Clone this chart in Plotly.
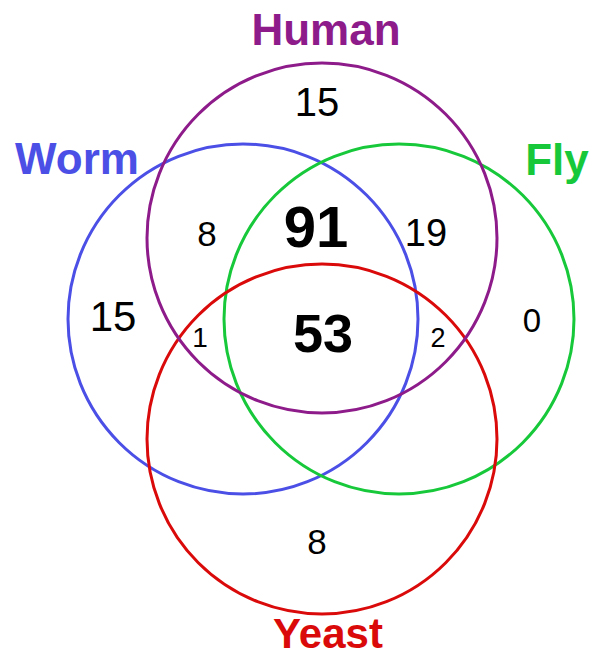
import plotly.graph_objects as go

# Data
set_names = ["Human", "Worm", "Fly", "Yeast"]
region_labels = ["Human only", "Worm&Human", "Human&Fly&Worm", "Human&Fly",
                 "Worm only", "Worm&Yeast&Human", "All four", "Fly&Yeast&Human",
                 "Fly only", "Yeast only"]
region_counts = [15, 8, 91, 19, 15, 1, 53, 2, 0, 8]

# Layout / geometry (pixel space)
colors = {"Human": "#8E1B8A", "Worm": "#4B4FE6", "Fly": "#17C93A", "Yeast": "#DA0A0A"}
circles = {"Human": (322, 238, 175), "Worm": (243, 319, 175),
           "Fly": (399, 319, 175), "Yeast": (322, 439, 175)}
name_pos = {"Human": (326, 34), "Worm": (77, 163), "Fly": (557, 164), "Yeast": (328, 637)}
region_pos = [(317, 106), (207, 237), (316, 232), (426, 236), (113, 320),
              (200, 340), (323, 338), (438, 340), (532, 324), (317, 545)]
region_size = [40, 35, 58, 38, 42, 28, 54, 27, 33, 35]
region_bold = [False, False, True, False, False, False, True, False, False, False]

fig = go.Figure()
for name in ["Worm", "Fly", "Yeast", "Human"]:
    cx, cy, r = circles[name]
    fig.add_shape(type="circle", xref="x", yref="y", x0=cx - r, x1=cx + r,
                  y0=cy - r, y1=cy + r, line=dict(color=colors[name], width=3))

fig.add_trace(go.Scatter(
    x=[p[0] for p in region_pos], y=[p[1] for p in region_pos], mode="text",
    text=[f"<b>{c}</b>" if b else str(c) for c, b in zip(region_counts, region_bold)],
    textposition="middle center",
    textfont=dict(family="Liberation Sans, Arial", color="black", size=region_size),
    hoverinfo="skip", showlegend=False))

fig.add_trace(go.Scatter(
    x=[name_pos[n][0] for n in set_names], y=[name_pos[n][1] for n in set_names],
    mode="text", text=[f"<b>{n}</b>" for n in set_names], textposition="middle center",
    textfont=dict(family="Liberation Sans, Arial", color=[colors[n] for n in set_names],
                  size=[44, 44, 44, 42]),
    hoverinfo="skip", showlegend=False))

fig.update_xaxes(range=[0, 590], visible=False)
fig.update_yaxes(range=[657, 0], visible=False)
fig.update_layout(width=590, height=657, margin=dict(l=0, r=0, t=0, b=0),
                  plot_bgcolor="white", paper_bgcolor="white")
fig.write_html("out.html", config={"displayModeBar": False},
               post_script="document.body.style.margin='0';document.body.style.overflow='hidden';")
